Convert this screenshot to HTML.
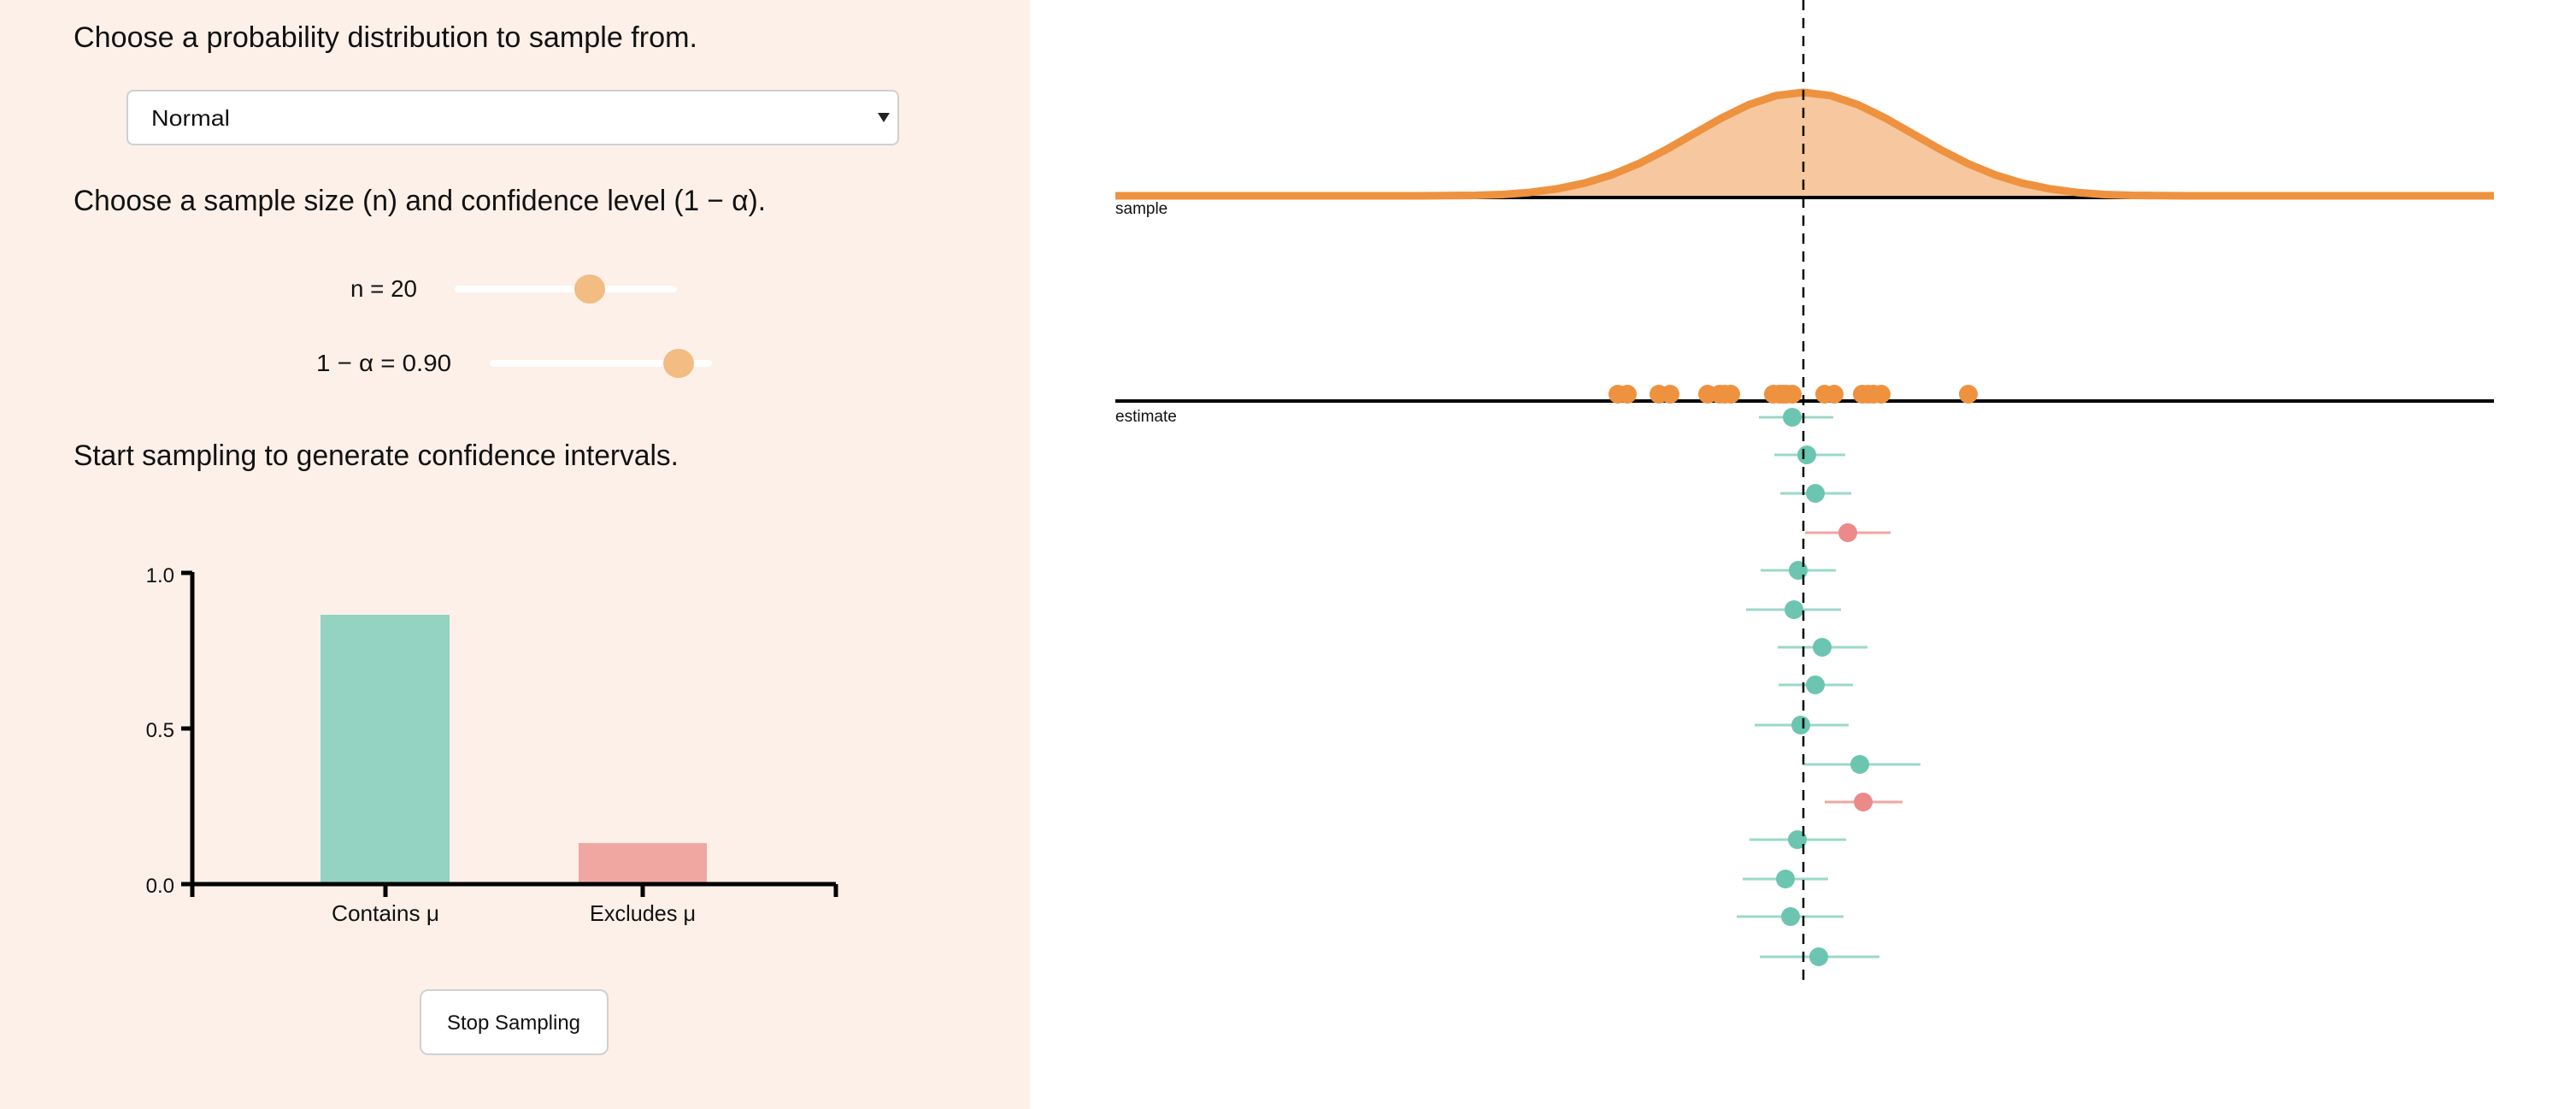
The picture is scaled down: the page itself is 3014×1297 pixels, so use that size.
<!DOCTYPE html>
<html><head><meta charset="utf-8"><style>
html,body{margin:0;padding:0;background:#fff;}
svg{display:block;}
text{font-family:"Liberation Sans",sans-serif;fill:#111;}
</style></head><body>
<svg width="3014" height="1297" viewBox="0 0 3014 1297" xmlns="http://www.w3.org/2000/svg">
<rect x="0" y="0" width="1205" height="1297" fill="#fcf0e8"/>
<text x="86" y="55" font-size="34" textLength="730" lengthAdjust="spacingAndGlyphs">Choose a probability distribution to sample from.</text>
<rect x="149" y="106" width="902" height="63" rx="7" fill="#fff" stroke="#d0d0d0" stroke-width="2"/>
<text x="177" y="147" font-size="26" textLength="92" lengthAdjust="spacingAndGlyphs">Normal</text>
<path d="M1027 132 L1041 132 L1034 143 Z" fill="#222"/>
<text x="86" y="246" font-size="34" textLength="810" lengthAdjust="spacingAndGlyphs">Choose a sample size (n) and confidence level (1 − α).</text>
<text x="410" y="347" font-size="28" textLength="78" lengthAdjust="spacingAndGlyphs">n = 20</text>
<rect x="532" y="334" width="260" height="8" rx="4" fill="#fff"/>
<ellipse cx="690" cy="338" rx="18" ry="17" fill="#f2bc82"/>
<text x="370" y="434" font-size="28" textLength="158" lengthAdjust="spacingAndGlyphs">1 − α = 0.90</text>
<rect x="573" y="421" width="260" height="8" rx="4" fill="#fff"/>
<ellipse cx="794" cy="425" rx="18" ry="17" fill="#f2bc82"/>
<text x="86" y="544" font-size="34" textLength="708" lengthAdjust="spacingAndGlyphs">Start sampling to generate confidence intervals.</text>
<rect x="375" y="719" width="151" height="315" fill="#94d3c1"/>
<rect x="677" y="986" width="150" height="48" fill="#f0a7a2"/>
<g stroke="#000" stroke-width="5" fill="none">
<path d="M225 669 V1036"/>
<path d="M222 1034 H978"/>
<path d="M212 670 H225 M212 852 H225 M212 1034 H225"/>
<path d="M225 1034 V1049 M451 1034 V1049 M752 1034 V1049 M978 1034 V1049"/>
</g>
<text x="204" y="681" font-size="24" text-anchor="end">1.0</text>
<text x="204" y="862" font-size="24" text-anchor="end">0.5</text>
<text x="204" y="1044" font-size="24" text-anchor="end">0.0</text>
<text x="451" y="1077" font-size="26" text-anchor="middle" textLength="126" lengthAdjust="spacingAndGlyphs">Contains μ</text>
<text x="752" y="1077" font-size="26" text-anchor="middle" textLength="124" lengthAdjust="spacingAndGlyphs">Excludes μ</text>
<rect x="492" y="1158" width="219" height="75" rx="9" fill="#fff" stroke="#d0d0d0" stroke-width="2"/>
<text x="601" y="1204" font-size="24" text-anchor="middle" textLength="156" lengthAdjust="spacingAndGlyphs">Stop Sampling</text>
<path d="M1662 230.7 L1726 229.6 L1758 228.2 L1790 225.6 L1822 221.2 L1854 214.4 L1886 204.4 L1918 191.1 L1950 174.7 L1982 156.4 L2014 138.2 L2046 122.5 L2078 111.8 L2110 108 L2142 111.8 L2174 122.5 L2206 138.2 L2238 156.4 L2270 174.7 L2302 191.1 L2334 204.4 L2366 214.4 L2398 221.2 L2430 225.6 L2462 228.2 L2494 229.6 L2558 230.7 Z" fill="#f7c89f"/>
<path d="M1305 231 H2918" stroke="#000" stroke-width="4"/>
<path d="M1305 229 L1662 229 L1726 228.5 L1758 227.5 L1790 225.1 L1822 220.8 L1854 214.2 L1886 204.4 L1918 191.1 L1950 174.7 L1982 156.4 L2014 138.2 L2046 122.5 L2078 111.8 L2110 108 L2142 111.8 L2174 122.5 L2206 138.2 L2238 156.4 L2270 174.7 L2302 191.1 L2334 204.4 L2366 214.2 L2398 220.8 L2430 225.1 L2462 227.5 L2494 228.5 L2558 229 L2918 229" fill="none" stroke="#ee9240" stroke-width="9" stroke-linejoin="round"/>
<text x="1305" y="250" font-size="19">sample</text>
<path d="M1305 469 H2918" stroke="#000" stroke-width="4"/>
<text x="1305" y="493" font-size="19">estimate</text>
<g fill="#ee9240">
<circle cx="1893" cy="461" r="11"/><circle cx="1904" cy="461" r="11"/><circle cx="1941" cy="461" r="11"/><circle cx="1954" cy="461" r="11"/>
<circle cx="1998" cy="461" r="11"/><circle cx="2012" cy="461" r="11"/><circle cx="2025" cy="461" r="11"/><circle cx="2075" cy="461" r="11"/>
<circle cx="2086" cy="461" r="11"/><circle cx="2097" cy="461" r="11"/><circle cx="2135" cy="461" r="11"/><circle cx="2146" cy="461" r="11"/>
<circle cx="2179" cy="461" r="11"/><circle cx="2192" cy="461" r="11"/><circle cx="2201" cy="461" r="11"/><circle cx="2303" cy="461" r="11"/>
<circle cx="2018" cy="461" r="11"/><circle cx="2090" cy="461" r="11"/><circle cx="2186" cy="461" r="11"/><circle cx="2082" cy="461" r="11"/>
</g>
<g stroke-width="3">
<g stroke="#9bd8c9" fill="#6cc5b0">
<line x1="2058" x2="2145" y1="488" y2="488"/><circle cx="2097" cy="488" r="11" stroke="none"/>
<line x1="2076" x2="2159" y1="532" y2="532"/><circle cx="2114" cy="532" r="11" stroke="none"/>
<line x1="2083" x2="2166" y1="577" y2="577"/><circle cx="2124" cy="577" r="11" stroke="none"/>
<line x1="2060" x2="2148" y1="667" y2="667"/><circle cx="2104" cy="667" r="11" stroke="none"/>
<line x1="2043" x2="2154" y1="713" y2="713"/><circle cx="2099" cy="713" r="11" stroke="none"/>
<line x1="2080" x2="2185" y1="757" y2="757"/><circle cx="2132" cy="757" r="11" stroke="none"/>
<line x1="2081" x2="2168" y1="801" y2="801"/><circle cx="2124" cy="801" r="11" stroke="none"/>
<line x1="2053" x2="2163" y1="848" y2="848"/><circle cx="2107" cy="848" r="11" stroke="none"/>
<line x1="2109" x2="2247" y1="894" y2="894"/><circle cx="2176" cy="894" r="11" stroke="none"/>
<line x1="2047" x2="2160" y1="982" y2="982"/><circle cx="2103" cy="982" r="11" stroke="none"/>
<line x1="2039" x2="2139" y1="1028" y2="1028"/><circle cx="2089" cy="1028" r="11" stroke="none"/>
<line x1="2032" x2="2157" y1="1072" y2="1072"/><circle cx="2095" cy="1072" r="11" stroke="none"/>
<line x1="2059" x2="2199" y1="1119" y2="1119"/><circle cx="2128" cy="1119" r="11" stroke="none"/>
</g>
<g stroke="#f0a7a2" fill="#ec8a8a">
<line x1="2112" x2="2212" y1="623" y2="623"/><circle cx="2162" cy="623" r="11" stroke="none"/>
<line x1="2135" x2="2226" y1="938" y2="938"/><circle cx="2180" cy="938" r="11" stroke="none"/>
</g>
</g>
<path d="M2110 0 V1150" stroke="#000" stroke-width="2.5" stroke-dasharray="12 9"/>
</svg>
</body></html>
